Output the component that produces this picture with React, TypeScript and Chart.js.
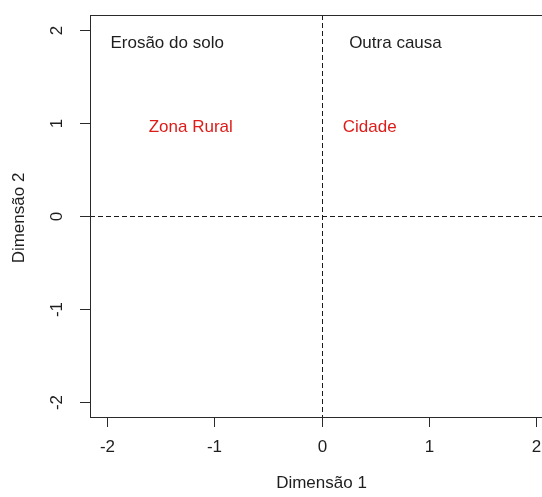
import React, { useEffect, useRef } from "react";
import { Chart, registerables } from "chart.js";

Chart.register(...registerables);

const pointLabels = ["Erosão do solo", "Outra causa", "Zona Rural", "Cidade"];
const dim1 = [-1.44, 0.69, -1.22, 0.45];
const dim2 = [1.86, 1.86, 0.95, 0.95];
const labelColors = ["#1e1e1e", "#1e1e1e", "#dd1c1a", "#dd1c1a"];

const xTicks = [-2, -1, 0, 1, 2];
const yTicks = [-2, -1, 0, 1, 2];
const axisMin = -2.16;
const axisMax = 2.16;
const refX = 0;
const refY = 0;
const xTitle = "Dimensão 1";
const yTitle = "Dimensão 2";

const FONT = '17px "Liberation Sans", Arial, sans-serif';

const annotatePlugin = {
  id: "annotate",
  beforeDatasetsDraw(chart: any) {
    const { ctx, chartArea, scales } = chart;
    const { left, right, top, bottom } = chartArea;
    ctx.save();
    ctx.strokeStyle = "#1a1a1a";
    ctx.lineWidth = 1;
    ctx.setLineDash([5, 3]);
    const py = Math.round(scales.y.getPixelForValue(refY)) + 0.5;
    ctx.beginPath();
    ctx.moveTo(left, py);
    ctx.lineTo(right, py);
    ctx.stroke();
    const px = Math.round(scales.x.getPixelForValue(refX)) + 0.5;
    ctx.beginPath();
    ctx.moveTo(px, top);
    ctx.lineTo(px, bottom);
    ctx.stroke();
    ctx.restore();
  },
  afterDraw(chart: any) {
    const { ctx, chartArea, scales } = chart;
    const { left, right, top, bottom } = chartArea;
    const xs = scales.x;
    const ys = scales.y;
    ctx.save();
    ctx.strokeStyle = "#2a2a2a";
    ctx.lineWidth = 1;
    ctx.strokeRect(Math.round(left) + 0.5, Math.round(top) + 0.5, Math.round(right - left), Math.round(bottom - top));

    ctx.font = FONT;
    ctx.fillStyle = "#1e1e1e";
    ctx.textAlign = "center";
    ctx.textBaseline = "middle";
    xTicks.forEach((v) => {
      const px = Math.round(xs.getPixelForValue(v)) + 0.5;
      ctx.beginPath();
      ctx.moveTo(px, bottom);
      ctx.lineTo(px, bottom + 10);
      ctx.stroke();
      ctx.fillText(String(v), px, bottom + 30);
    });
    yTicks.forEach((v) => {
      const py = Math.round(ys.getPixelForValue(v)) + 0.5;
      ctx.beginPath();
      ctx.moveTo(left - 10, py);
      ctx.lineTo(left, py);
      ctx.stroke();
      ctx.save();
      ctx.translate(left - 33, py);
      ctx.rotate(-Math.PI / 2);
      ctx.fillText(String(v), 0, 0);
      ctx.restore();
    });
    ctx.fillText(xTitle, xs.getPixelForValue(0), bottom + 66);
    ctx.save();
    ctx.translate(19, ys.getPixelForValue(0) + 2);
    ctx.rotate(-Math.PI / 2);
    ctx.fillText(yTitle, 0, 0);
    ctx.restore();

    const meta = chart.getDatasetMeta(0);
    meta.data.forEach((el: any, i: number) => {
      ctx.fillStyle = labelColors[i];
      ctx.fillText(pointLabels[i], el.x, el.y);
    });
    ctx.restore();
  },
};

export default function App() {
  const ref = useRef<HTMLCanvasElement>(null);
  useEffect(() => {
    if (!ref.current) return;
    const chart = new Chart(ref.current, {
      type: "scatter",
      data: {
        datasets: [
          {
            data: dim1.map((x, i) => ({ x, y: dim2[i] })),
            pointRadius: 0,
            pointHoverRadius: 0,
          },
        ],
      },
      options: {
        animation: false,
        responsive: false,
        devicePixelRatio: 1,
        layout: { padding: { left: 90, top: 15, right: 27, bottom: 80 } },
        plugins: { legend: { display: false }, tooltip: { enabled: false } },
        events: [],
        scales: {
          x: { type: "linear", min: axisMin, max: axisMax, display: false },
          y: { type: "linear", min: axisMin, max: axisMax, display: false },
        },
      },
      plugins: [annotatePlugin],
    });
    return () => chart.destroy();
  }, []);
  return (
    <div style={{ position: "fixed", left: 0, top: 0, width: 542, height: 497, overflow: "hidden", background: "#fff" }}>
      <canvas ref={ref} width={580} height={497} style={{ width: 580, height: 497, display: "block" }} />
    </div>
  );
}
